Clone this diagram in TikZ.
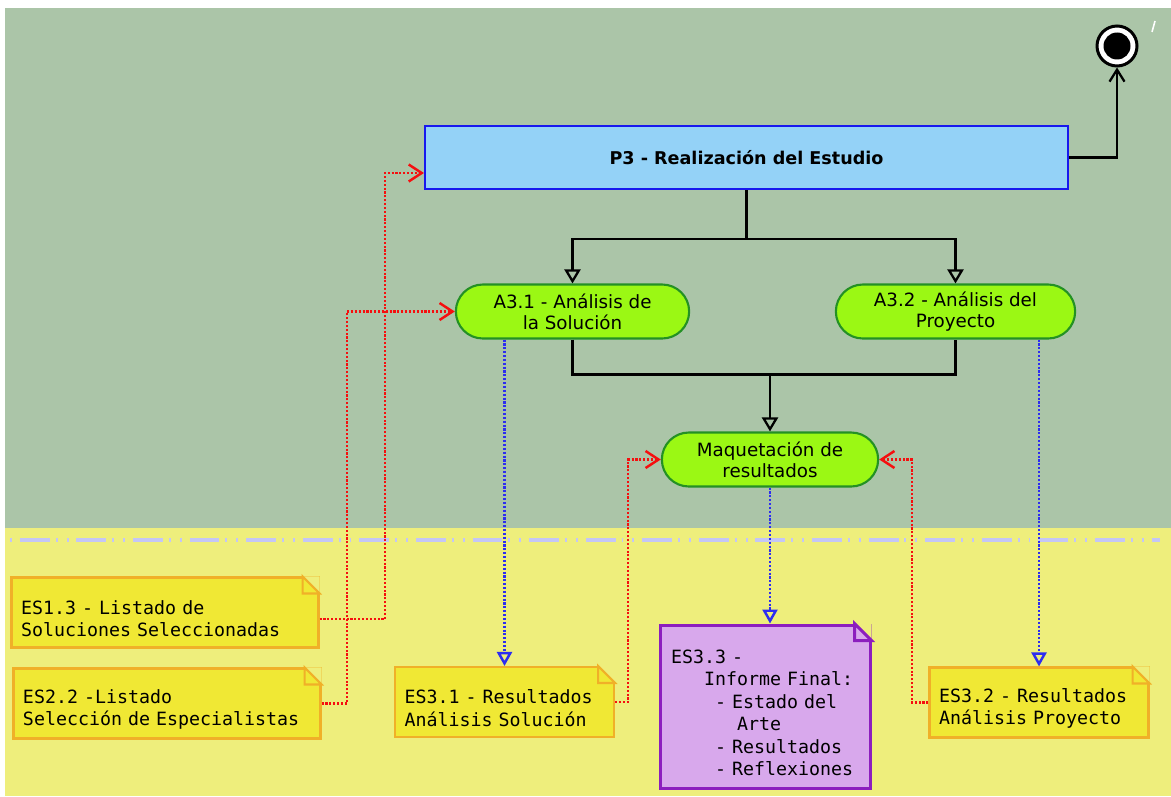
\documentclass[tikz,border=0pt]{standalone}
\usepackage{fontspec}
\setmainfont{DejaVu Sans}
\newfontfamily\notefont{DejaVu Sans Mono}[WordSpace={1,0,0}]
\usepackage{tikz}
\usetikzlibrary{arrows.meta, shapes.misc}
\definecolor{greenbg}{RGB}{171,197,168}
\definecolor{yellowbg}{RGB}{238,238,124}
\definecolor{procfill}{RGB}{148,210,247}
\definecolor{procedge}{RGB}{24,24,238}
\definecolor{actfill}{RGB}{155,248,20}
\definecolor{actedge}{RGB}{36,145,36}
\definecolor{notefill}{RGB}{240,232,52}
\definecolor{noteedge}{RGB}{240,176,40}
\definecolor{reportfill}{RGB}{216,168,236}
\definecolor{reportedge}{RGB}{140,30,190}
\definecolor{lanecol}{RGB}{196,198,246}
\definecolor{feedred}{RGB}{245,15,15}
\definecolor{outblue}{RGB}{45,45,240}

\newcommand{\dogear}[2]{%
  \fill[yellowbg] ([xshift=-0.34cm]#1.north east) -- (#1.north east) -- ([yshift=-0.34cm]#1.north east) -- cycle;
  \draw[#2] ([xshift=-0.34cm]#1.north east) |- ([yshift=-0.34cm]#1.north east) -- cycle;}

\begin{document}
\begin{tikzpicture}[
    ctrl/.style={line width=1.3pt, black},
    flow/.style={ctrl, -{Triangle[open,length=0.28cm,width=0.32cm]}},
    feed/.style={line width=1.4pt, feedred, dash pattern=on 1.2pt off 1pt, -{Straight Barb[length=0.26cm,width=0.34cm]}},
    outp/.style={line width=1.4pt, outblue, dash pattern=on 1.2pt off 1pt, -{Triangle[open,length=0.28cm,width=0.3cm]}},
    act/.style={rounded rectangle, draw=actedge, fill=actfill, line width=1.2pt, align=center, minimum height=1.08cm, font=\fontsize{10.4}{12}\selectfont},
    note/.style={rectangle, draw=noteedge, fill=notefill, line width=1.2pt, align=left, inner xsep=0.19cm, minimum height=1.40cm, font=\notefont\fontsize{10.4}{12.8}\selectfont, execute at begin node={\rule{0pt}{5.2mm}}},
    notefold/.style={draw=noteedge, fill=notefill, line width=1.2pt},
    reportfold/.style={draw=reportedge, fill=reportfill, line width=1.7pt},
    ]
        \useasboundingbox (0,0) rectangle (23.42,15.92);
        \fill[greenbg] (0.10,5.36) rectangle (23.42,15.76);
        \fill[yellowbg] (0.10,0) rectangle (23.42,5.36);
        \draw[lanecol, line width=2.2pt, dash pattern=on 1.1pt off 4.5pt on 17pt off 3.4pt on 1.1pt off 5.1pt] (0.2,5.12) -- (23.2,5.12);
        \draw[white, line width=0.9pt] (23.10,15.50) -- (23.04,15.28);

        \node[draw=procedge, fill=procfill, line width=1.2pt, minimum width=12.86cm, minimum height=1.26cm, font=\bfseries\fontsize{10}{12}\selectfont] (p3) at (14.93,12.77) {P3 - Realización del Estudio};
        \node[circle, draw, fill=white, line width=1.7pt, inner sep=0pt, minimum size=0.80cm, path picture={\fill[black] (path picture bounding box.center) circle (0.27cm);}] (fin) at (22.34,15.00) {};

        \node[act, minimum width=4.90cm] (a31) at (11.45,9.69) {A3.1 - Análisis de\\la Solución};
        \node[act, minimum width=5.02cm] (a32) at (19.11,9.69) {A3.2 - Análisis del\\Proyecto};
        \node[act, minimum width=4.56cm] (mq) at (15.40,6.73) {Maquetación de\\resultados};

        \node[note, text width=5.76cm] (es13) at (3.30,3.67) {ES1.3 - Listado de\\Soluciones Seleccionadas};
        \node[note, text width=5.76cm] (es22) at (3.34,1.85) {ES2.2 -Listado\\Selección de Especialistas};
        \node[note, text width=4.00cm] (es31) at (10.09,1.88) {ES3.1 - Resultados\\Análisis Solución};
        \node[note, text width=4.00cm] (es32) at (20.78,1.87) {ES3.2 - Resultados\\Análisis Proyecto};
        \node[note, draw=reportedge, fill=reportfill, line width=1.7pt, inner xsep=0.22cm, text width=3.76cm, minimum height=3.26cm] (es33) at (15.30,1.79) {ES3.3 -\\\hphantom{xxx}Informe Final:\\\hphantom{xxxx}- Estado del\\\hphantom{xxxxxx}Arte\\\hphantom{xxxx}- Resultados\\\hphantom{xxxx}- Reflexiones};
        \dogear{es13}{notefold}
        \dogear{es22}{notefold}
        \dogear{es31}{notefold}
        \dogear{es32}{notefold}
        \dogear{es33}{reportfold}

        \draw[ctrl, -{Straight Barb[length=0.24cm,width=0.3cm]}] (p3.east) -| (fin.south);
        \draw[ctrl] (p3.south) -- ++(0,-0.98) coordinate (fork);
        \draw[flow] (fork) -| (a31.north);
        \draw[flow] (fork) -| (a32.north);
        \draw[ctrl] (a31.south) -- ++(0,-0.70) coordinate (joinl) -| (a32.south);
        \draw[flow] (joinl -| mq.north) -- (mq.north);

        \draw[outp] (es31.north |- a31.south) -- (es31.north);
        \draw[outp] (es32.north |- a32.south) -- (es32.north);
        \draw[outp] (mq.south) -- (mq.south |- es33.north);

        \draw[feed] ([yshift=-0.13cm]es13.east) -- ++(1.31,0) |- ([yshift=-0.31cm]p3.west);
        \draw[feed] (es22.east) -- ++(0.51,0) |- (a31.west);
        \draw[feed] (es31.east) -- ++(0.26,0) |- (mq.west);
        \draw[feed] (es32.west) -- ++(-0.33,0) |- (mq.east);
      \end{tikzpicture}
\end{document}
